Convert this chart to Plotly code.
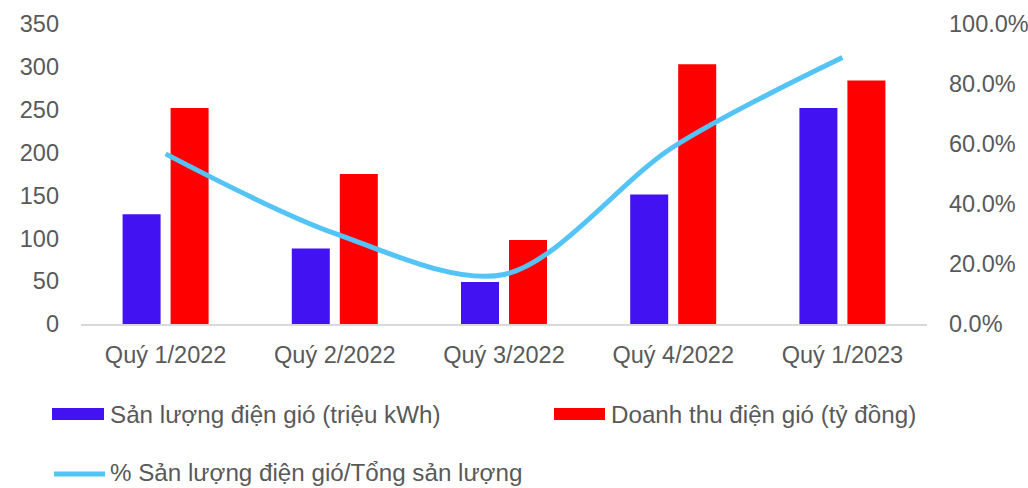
import plotly.graph_objects as go

# Quarterly wind-power figures
quarters = ["Quý 1/2022", "Quý 2/2022", "Quý 3/2022", "Quý 4/2022", "Quý 1/2023"]
san_luong = [128, 88, 49, 151, 252]          # triệu kWh
doanh_thu = [252, 175, 98, 303, 284]         # tỷ đồng
ty_trong = [0.567, 0.302, 0.165, 0.59, 0.888]  # % sản lượng điện gió / tổng

left_ticks = [0, 50, 100, 150, 200, 250, 300, 350]
right_ticks = [0, 0.2, 0.4, 0.6, 0.8, 1.0]

BLUE = "#4312F2"
RED = "#FF0000"
LINE = "#54C4F7"
TEXT = "#595959"
FONT = "Liberation Sans, Arial, sans-serif"
FS = 23.5
LEG_FS = 24.2

W, H = 1028, 488
L, R, T, B = 81, 101, 24, 164
PW, PH = W - L - R, H - T - B

fig = go.Figure()
fig.add_trace(go.Bar(x=quarters, y=san_luong, name="Sản lượng điện gió (triệu kWh)",
                     marker=dict(color=BLUE, line=dict(width=0))))
fig.add_trace(go.Bar(x=quarters, y=doanh_thu, name="Doanh thu điện gió (tỷ đồng)",
                     marker=dict(color=RED, line=dict(width=0))))
fig.add_trace(go.Scatter(x=quarters, y=ty_trong, yaxis="y2", mode="lines",
                         name="% Sản lượng điện gió/Tổng sản lượng",
                         line=dict(color=LINE, width=5, shape="spline", smoothing=0.9)))


def px(xp):
    return (xp - L) / PW


def py(yp):
    return (H - B - yp) / PH


# Legend drawn in paper space
shapes = [
    dict(type="rect", xref="paper", yref="paper", x0=px(52), x1=px(104), y0=py(420), y1=py(408),
         fillcolor=BLUE, line=dict(width=0)),
    dict(type="rect", xref="paper", yref="paper", x0=px(554), x1=px(605), y0=py(420), y1=py(408),
         fillcolor=RED, line=dict(width=0)),
    dict(type="line", xref="paper", yref="paper", x0=px(54), x1=px(105), y0=py(474), y1=py(474),
         line=dict(color=LINE, width=5)),
]
annotations = []
for xt, yt, txt in [(108, 414, "Sản lượng điện gió (triệu kWh)"),
                    (609, 414, "Doanh thu điện gió (tỷ đồng)"),
                    (108, 472, "% Sản lượng điện gió/Tổng sản lượng")]:
    annotations.append(dict(xref="paper", yref="paper", x=px(xt), y=py(yt), text=txt,
                            showarrow=False, xanchor="left", yanchor="middle",
                            font=dict(family=FONT, size=LEG_FS, color=TEXT)))

fig.update_layout(
    width=W, height=H,
    margin=dict(l=L, r=R, t=T, b=B, pad=0, autoexpand=False),
    paper_bgcolor="white", plot_bgcolor="white",
    barmode="group", bargap=0.4326, bargroupgap=0.2083,
    showlegend=False,
    font=dict(family=FONT, size=FS, color=TEXT),
    xaxis=dict(showgrid=False, showline=True, linecolor="#D9D9D9", linewidth=2,
               ticks="", ticklabelstandoff=9, automargin=False,
               tickfont=dict(size=FS, color=TEXT)),
    yaxis=dict(range=[0, 350], tickvals=left_ticks, showgrid=False, zeroline=False,
               showline=False, ticks="", ticklabelstandoff=21, automargin=False,
               tickfont=dict(size=FS, color=TEXT)),
    yaxis2=dict(range=[0, 1.0], tickvals=right_ticks, tickformat=".1%", overlaying="y",
                side="right", showgrid=False, zeroline=False, showline=False, ticks="",
                ticklabelstandoff=21, automargin=False,
                tickfont=dict(size=FS, color=TEXT)),
    shapes=shapes, annotations=annotations,
)

fig.write_html("out.html")
